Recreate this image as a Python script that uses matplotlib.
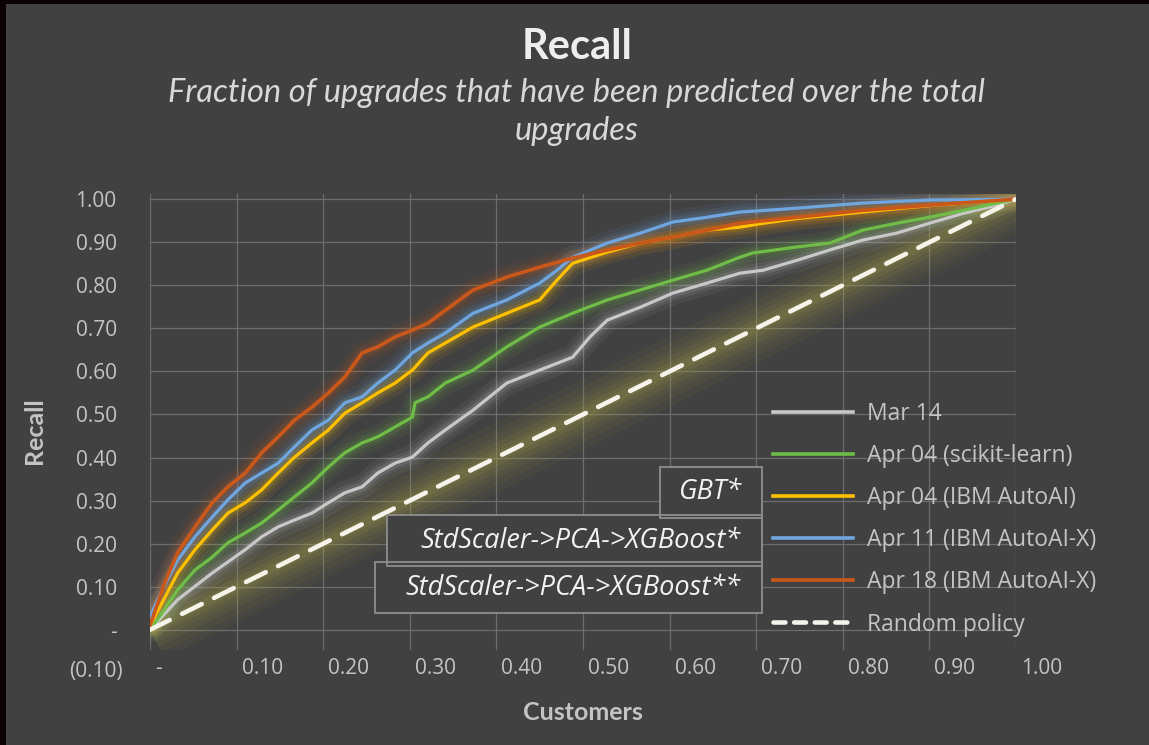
import matplotlib
matplotlib.use("Agg")
import matplotlib.pyplot as plt
from matplotlib.lines import Line2D
from matplotlib.patches import Rectangle
from matplotlib.transforms import ScaledTranslation

# ---------------- data ----------------
x_ticks = [0.0, 0.1, 0.2, 0.3, 0.4, 0.5, 0.6, 0.7, 0.8, 0.9, 1.0]
x_tick_labels = ["-", "0.10", "0.20", "0.30", "0.40", "0.50", "0.60", "0.70", "0.80", "0.90", "1.00"]
y_ticks = [0.0, 0.1, 0.2, 0.3, 0.4, 0.5, 0.6, 0.7, 0.8, 0.9, 1.0]
y_tick_labels = ["-", "0.10", "0.20", "0.30", "0.40", "0.50", "0.60", "0.70", "0.80", "0.90", "1.00"]
y_extra_value = -0.10
y_extra_label = "(0.10)"

series_labels = ["Mar 14", "Apr 04 (scikit-learn)", "Apr 04 (IBM AutoAI)",
                 "Apr 11 (IBM AutoAI-X)", "Apr 18 (IBM AutoAI-X)", "Random policy"]

mar14_x = [0, 0.032, 0.072, 0.110, 0.129, 0.148, 0.167, 0.187, 0.206, 0.225, 0.245, 0.263,
           0.283, 0.303, 0.321, 0.341, 0.373, 0.412, 0.450, 0.488, 0.508, 0.528, 0.566,
           0.604, 0.643, 0.681, 0.708, 0.747, 0.785, 0.823, 0.862, 0.900, 0.939, 0.978, 1.0]
mar14_y = [0, 0.070, 0.132, 0.186, 0.216, 0.239, 0.255, 0.271, 0.295, 0.318, 0.332, 0.364,
           0.387, 0.401, 0.434, 0.464, 0.510, 0.573, 0.603, 0.633, 0.680, 0.719, 0.749,
           0.782, 0.805, 0.828, 0.835, 0.858, 0.882, 0.905, 0.921, 0.944, 0.967, 0.986, 1.0]

sk_x = [0, 0.014, 0.032, 0.052, 0.072, 0.090, 0.110, 0.129, 0.148, 0.167, 0.187, 0.206,
        0.225, 0.245, 0.263, 0.283, 0.303, 0.306, 0.321, 0.341, 0.373, 0.412, 0.450, 0.488,
        0.528, 0.566, 0.604, 0.643, 0.681, 0.696, 0.747, 0.785, 0.823, 0.862, 0.900, 0.939,
        0.978, 1.0]
sk_y = [0, 0.039, 0.093, 0.139, 0.169, 0.202, 0.225, 0.248, 0.278, 0.309, 0.341, 0.378,
        0.411, 0.434, 0.448, 0.471, 0.494, 0.527, 0.541, 0.573, 0.603, 0.657, 0.703, 0.735,
        0.766, 0.789, 0.812, 0.835, 0.865, 0.875, 0.889, 0.898, 0.928, 0.944, 0.958, 0.974,
        0.991, 1.0]

autoai_x = [0, 0.014, 0.032, 0.052, 0.072, 0.090, 0.110, 0.129, 0.148, 0.167, 0.187, 0.206,
            0.225, 0.245, 0.263, 0.283, 0.303, 0.321, 0.341, 0.373, 0.412, 0.450, 0.470,
            0.488, 0.528, 0.566, 0.604, 0.643, 0.681, 0.708, 0.747, 0.823, 0.900, 1.0]
autoai_y = [0.01, 0.063, 0.132, 0.186, 0.232, 0.271, 0.295, 0.325, 0.364, 0.401, 0.434, 0.464,
            0.503, 0.527, 0.550, 0.573, 0.603, 0.643, 0.666, 0.703, 0.735, 0.766, 0.812,
            0.851, 0.877, 0.898, 0.912, 0.928, 0.935, 0.944, 0.955, 0.970, 0.985, 1.0]

apr11_x = [0, 0.014, 0.032, 0.052, 0.072, 0.090, 0.110, 0.129, 0.148, 0.167, 0.187, 0.206,
           0.225, 0.245, 0.263, 0.283, 0.303, 0.321, 0.341, 0.373, 0.412, 0.450, 0.470,
           0.488, 0.528, 0.566, 0.604, 0.643, 0.681, 0.747, 0.823, 0.900, 1.0]
apr11_y = [0.03, 0.093, 0.162, 0.216, 0.262, 0.302, 0.341, 0.364, 0.387, 0.425, 0.464, 0.487,
           0.527, 0.541, 0.573, 0.603, 0.643, 0.666, 0.689, 0.735, 0.766, 0.805, 0.835,
           0.865, 0.898, 0.921, 0.947, 0.958, 0.970, 0.979, 0.991, 0.998, 1.0]

apr18_x = [0, 0.017, 0.032, 0.052, 0.072, 0.090, 0.110, 0.129, 0.148, 0.167, 0.187, 0.206,
           0.225, 0.245, 0.263, 0.283, 0.303, 0.321, 0.341, 0.373, 0.412, 0.450, 0.488,
           0.528, 0.566, 0.604, 0.643, 0.681, 0.747, 0.823, 0.900, 1.0]
apr18_y = [0.01, 0.109, 0.179, 0.239, 0.295, 0.332, 0.364, 0.411, 0.448, 0.487, 0.517, 0.550,
           0.587, 0.643, 0.657, 0.680, 0.696, 0.712, 0.742, 0.789, 0.819, 0.842, 0.863,
           0.882, 0.898, 0.912, 0.928, 0.944, 0.958, 0.974, 0.986, 1.0]

random_x = [0.0, 1.0]
random_y = [0.0, 1.0]

box_texts = ["GBT*", "StdScaler->PCA->XGBoost*", "StdScaler->PCA->XGBoost**"]

title_text = "Recall"
subtitle_lines = ["Fraction of upgrades that have been predicted over the total", "upgrades"]
x_label = "Customers"
y_label = "Recall"

# ---------------- style ----------------
W, H, DPI = 1149, 745, 100
BG = "#414141"
GRID = "#6c6c6c"
TICK_C = "#c4c4c4"
colors = ["#c8c8c8", "#6fbd48", "#ffc000", "#6fa6e0", "#c9581a", "#f6f4ea"]
TICK_FS = 15

plt.rcParams["font.family"] = ["Open Sans", "DejaVu Sans"]

fig = plt.figure(figsize=(W / DPI, H / DPI), dpi=DPI, facecolor=BG)

def px2fx(px):
    return px / W

def py2fy(py):
    return 1 - py / H

# axes: x 0..1 spans px 150..1016 ; y -0.047..1.012 spans py 650..194
ax_left, ax_right, ax_top, ax_bot = 150, 1016, 194, 650
ax = fig.add_axes([px2fx(ax_left), py2fy(ax_bot), (ax_right - ax_left) / W, (ax_bot - ax_top) / H])
ax.set_facecolor(BG)
ax.set_xlim(0, 1.0)
ax.set_ylim(-0.047, 1.012)
for s in ax.spines.values():
    s.set_visible(False)
ax.set_xticks(x_ticks)
ax.set_xticklabels(x_tick_labels)
ax.set_yticks(y_ticks)
ax.set_yticklabels(y_tick_labels)
ax.tick_params(axis="both", length=0, colors=TICK_C, labelsize=TICK_FS)
ax.tick_params(axis="y", pad=24)
ax.tick_params(axis="x", pad=6)
ax.grid(True, color=GRID, lw=0.9, zorder=0)
ax.set_axisbelow(True)

offset = ScaledTranslation(5 / DPI, 0, fig.dpi_scale_trans)
for lab in ax.get_xticklabels():
    lab.set_ha("left")
    lab.set_transform(lab.get_transform() + offset)

ax.text(-27 / (ax_right - ax_left), y_extra_value + 0.003, y_extra_label,
        transform=ax.get_yaxis_transform(), ha="right", va="center",
        color=TICK_C, fontsize=TICK_FS, clip_on=False)

series = [(mar14_x, mar14_y), (sk_x, sk_y), (autoai_x, autoai_y),
          (apr11_x, apr11_y), (apr18_x, apr18_y)]

# glows
for w, a in [(64, 0.06), (50, 0.07), (38, 0.08), (27, 0.10), (17, 0.12), (9, 0.14)]:
    ax.plot(random_x, random_y, color="#a9a54a", lw=w * 0.72, alpha=a,
            solid_capstyle="butt", zorder=1)
for (xs, ys), c in zip(series, colors[:5]):
    for w, a in [(24, 0.07), (15, 0.10), (9, 0.14)]:
        ax.plot(xs, ys, color=c, lw=w * 0.72, alpha=a, solid_joinstyle="round",
                solid_capstyle="round", zorder=2)

# lines
lws = [2.3, 2.3, 2.3, 2.3, 2.6]
for i, ((xs, ys), c) in enumerate(zip(series, colors[:5])):
    ax.plot(xs, ys, color=c, lw=lws[i], solid_joinstyle="round", zorder=3 + i)
ax.plot(random_x, random_y, color=colors[5], lw=3.3, dashes=(4.8, 3.0),
        dash_capstyle="round", zorder=10)

# legend
LEG_FS = 16.5
handles = [Line2D([], [], color=c, lw=2.6) for c in colors[:5]]
handles.append(Line2D([], [], color=colors[5], lw=3.3, dashes=(2.6, 1.9), dash_capstyle="round"))
fig.legend(handles, series_labels, loc="upper left",
           bbox_to_anchor=(px2fx(773), py2fy(402)), frameon=False, fontsize=LEG_FS,
           labelcolor=TICK_C, handlelength=3.5, handletextpad=0.6, labelspacing=0.79,
           borderpad=0, borderaxespad=0)

# annotation boxes
boxes = [(660, 467, 762, 518, 492), (387, 515, 762, 566, 541), (375, 562, 762, 613, 588)]
for x0, y0, x1, y1, _ in boxes:
    fig.add_artist(Rectangle((px2fx(x0), py2fy(y1)), (x1 - x0) / W, (y1 - y0) / H,
                             transform=fig.transFigure, facecolor=BG, edgecolor="none", zorder=20))
for x0, y0, x1, y1, _ in boxes:
    fig.add_artist(Rectangle((px2fx(x0), py2fy(y1)), (x1 - x0) / W, (y1 - y0) / H,
                             transform=fig.transFigure, facecolor="none", edgecolor="#8e8e8e",
                             lw=1.3, zorder=21))
for (x0, y0, x1, y1, yc), t in zip(boxes, box_texts):
    fig.text(px2fx(741), py2fy(yc), t, ha="right", va="center", fontsize=19.5,
             fontstyle="italic", color="#f2f2f2", family=["Open Sans", "DejaVu Sans"], zorder=22)

# titles
fig.text(px2fx(577), py2fy(59), title_text, ha="center", va="baseline", fontsize=30,
         fontweight="bold", color="#eeeeee", family=["Lato", "DejaVu Sans"])
fig.text(px2fx(577), py2fy(102), subtitle_lines[0], ha="center", va="baseline", fontsize=23.5,
         fontstyle="italic", color="#d8d8d8", family=["Lato", "DejaVu Sans"])
fig.text(px2fx(577), py2fy(140), subtitle_lines[1], ha="center", va="baseline", fontsize=23.5,
         fontstyle="italic", color="#d8d8d8", family=["Lato", "DejaVu Sans"])

fig.text(px2fx(583), py2fy(713), x_label, ha="center", va="center", fontsize=18,
         fontweight="bold", color=TICK_C, family=["Lato", "DejaVu Sans"])
fig.text(px2fx(34), py2fy(431), y_label, ha="center", va="center", fontsize=18, rotation=90,
         fontweight="bold", color=TICK_C, family=["Lato", "DejaVu Sans"])

# dark frame edges
fig.add_artist(Rectangle((0, py2fy(4)), 1, 4 / H, transform=fig.transFigure,
                         facecolor="#0a0202", edgecolor="none", zorder=30))
fig.add_artist(Rectangle((0, 0), 6 / W, 1, transform=fig.transFigure,
                         facecolor="#0a0202", edgecolor="none", zorder=30))

fig.savefig("out.png", dpi=DPI, facecolor=BG)
